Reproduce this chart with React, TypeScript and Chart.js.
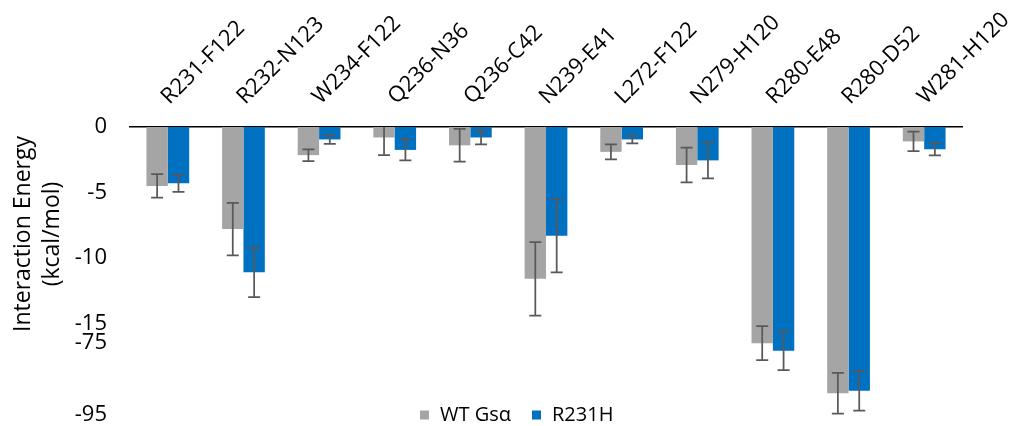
import React, { useEffect, useRef } from 'react';
import { Chart, registerables } from 'chart.js';

Chart.register(...registerables);

const categories = [
  'R231-F122', 'R232-N123', 'W234-F122', 'Q236-N36', 'Q236-C42', 'N239-E41',
  'L272-F122', 'N279-H120', 'R280-E48', 'R280-D52', 'W281-H120',
];
const seriesLabels = ['WT Gsα', 'R231H'];
const wtValues = [-4.5, -7.8, -2.15, -0.8, -1.4, -11.6, -1.9, -2.9, -75.2, -89.0, -1.1];
const wtErrors = [0.9, 2.0, 0.45, 1.35, 1.25, 2.8, 0.57, 1.33, 4.7, 5.6, 0.75];
const r231hValues = [-4.3, -11.1, -0.95, -1.75, -0.8, -8.3, -0.95, -2.55, -77.3, -88.3, -1.7];
const r231hErrors = [0.65, 1.9, 0.33, 0.8, 0.53, 2.8, 0.3, 1.38, 5.3, 5.5, 0.47];
const tickValues = [0, -5, -10, -15, -75, -95];

const seriesValues = [wtValues, r231hValues];
const seriesErrors = [wtErrors, r231hErrors];
const seriesColors = ['#A5A5A5', '#0070C0'];

// broken axis: upper segment 0..-15, lower segment -75..-95 (compressed)
const UPPER_MIN = -15;
const LOWER_MAX = -75;
const AXIS_MIN = -95;
const BREAK_GAP = 1.46;
const LOWER_RATIO = 0.277;
const toDisplay = (v: number) =>
  v > -20 ? v : UPPER_MIN - BREAK_GAP - (LOWER_MAX - v) * LOWER_RATIO;

const FONT = '"Open Sans", sans-serif';

const errorBarPlugin = {
  id: 'errorBars',
  afterDatasetsDraw(chart: any) {
    const { ctx, chartArea } = chart;
    const yScale = chart.scales.y;
    ctx.save();
    ctx.beginPath();
    ctx.rect(chartArea.left, chartArea.top, chartArea.right - chartArea.left, chartArea.bottom - chartArea.top);
    ctx.clip();
    ctx.strokeStyle = '#595959';
    ctx.lineWidth = 1.75;
    seriesValues.forEach((vals, di) => {
      const meta = chart.getDatasetMeta(di);
      meta.data.forEach((el: any, i: number) => {
        const v = vals[i];
        const e = seriesErrors[di][i];
        const x = el.x;
        const yTop = yScale.getPixelForValue(toDisplay(v + e));
        const yBot = yScale.getPixelForValue(toDisplay(v - e));
        const cap = 6;
        ctx.beginPath();
        ctx.moveTo(x, yTop);
        ctx.lineTo(x, yBot);
        ctx.moveTo(x - cap, yTop);
        ctx.lineTo(x + cap, yTop);
        ctx.moveTo(x - cap, yBot);
        ctx.lineTo(x + cap, yBot);
        ctx.stroke();
      });
    });
    ctx.restore();
  },
};

const decorPlugin = {
  id: 'decor',
  afterDraw(chart: any) {
    const { ctx } = chart;
    ctx.save();
    // y axis title
    ctx.fillStyle = '#000';
    ctx.font = `23px ${FONT}`;
    ctx.textAlign = 'center';
    ctx.textBaseline = 'middle';
    const titleLines = ['Interaction Energy', '(kcal/mol)'];
    const titleX = [23, 52];
    titleLines.forEach((t, i) => {
      ctx.save();
      ctx.translate(titleX[i], 234);
      ctx.rotate(-Math.PI / 2);
      ctx.fillText(t, 0, 0);
      ctx.restore();
    });
    // legend
    ctx.font = `20px ${FONT}`;
    ctx.textAlign = 'left';
    const legendX = [420, 532];
    const legendY = 415;
    seriesLabels.forEach((lab, i) => {
      ctx.fillStyle = seriesColors[i];
      ctx.fillRect(legendX[i], legendY - 4.5, 9, 9);
      ctx.fillStyle = '#000';
      ctx.fillText(lab, legendX[i] + 20, legendY);
    });
    ctx.restore();
  },
};

export default function App() {
  const ref = useRef<HTMLCanvasElement | null>(null);
  useEffect(() => {
    if (!ref.current) return;
    const chart = new Chart(ref.current, {
      type: 'bar',
      data: {
        labels: categories,
        datasets: seriesValues.map((vals, i) => ({
          label: seriesLabels[i],
          data: vals.map(toDisplay),
          backgroundColor: seriesColors[i],
          borderWidth: 0,
          categoryPercentage: 0.565,
          barPercentage: 1,
        })),
      },
      options: {
        responsive: false,
        animation: false,
        events: [],
        layout: { padding: { left: 0, top: 0, right: 48, bottom: 11 } },
        plugins: {
          legend: { display: false },
          tooltip: { enabled: false },
          title: { display: false },
        },
        scales: {
          x: {
            position: 'top',
            z: 1,
            grid: { display: false, drawTicks: false },
            border: { display: true, color: '#000', width: 1.5 },
            ticks: {
              autoSkip: false,
              minRotation: 45,
              maxRotation: 45,
              padding: 17,
              labelOffset: 16,
              color: '#000',
              font: { family: FONT, size: 22 },
            },
            afterFit: (s: any) => {
              s.height = 127;
              s.paddingLeft = 0;
              s.paddingRight = 0;
            },
          },
          y: {
            min: toDisplay(AXIS_MIN),
            max: 0,
            grid: { display: false, drawTicks: false },
            border: { display: false },
            afterBuildTicks: (s: any) => {
              s.ticks = tickValues.map((v) => ({ value: toDisplay(v) }));
            },
            ticks: {
              autoSkip: false,
              padding: 23,
              color: '#000',
              font: { family: FONT, size: 22 },
              callback: (_v: any, i: number) => String(tickValues[i]),
            },
            afterFit: (s: any) => {
              s.width = 130;
              s.paddingTop = 0;
              s.paddingBottom = 0;
            },
          },
        },
      } as any,
      plugins: [errorBarPlugin, decorPlugin],
    });
    return () => chart.destroy();
  }, []);
  return (
    <div style={{ position: 'fixed', left: 0, top: 0, width: 1010, height: 426, background: '#fff' }}>
      <canvas ref={ref} width={1010} height={426} />
    </div>
  );
}
